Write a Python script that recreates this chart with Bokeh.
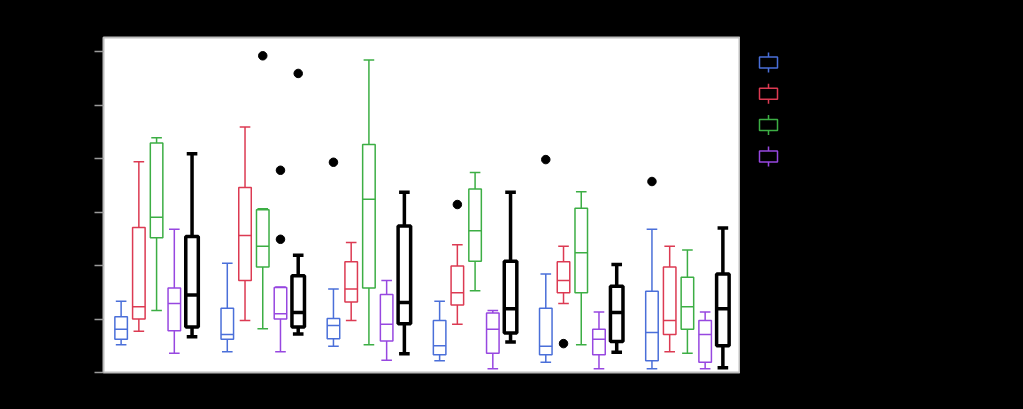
from bokeh.plotting import figure
from bokeh.models import ColumnDataSource, FixedTicker, Range1d, FactorRange
from bokeh.transform import dodge
from bokeh.layouts import row
from bokeh.embed import file_html
from bokeh.resources import INLINE
from bokeh.core.properties import value

# ---------------- data ----------------
groups = ["1", "2", "3", "4", "5", "6"]
series_names = ["Series 1", "Series 2", "Series 3", "Series 4", "All"]
series_colors = ["#4a6fd9", "#dc3a52", "#3cae44", "#9747e0", "#000000"]

# box statistics per series (one value per group)
s1_low  = [0.52, 0.39, 0.49, 0.22, 0.19, 0.07]
s1_q1   = [0.62, 0.62, 0.63, 0.33, 0.33, 0.22]
s1_med  = [0.81, 0.71, 0.88, 0.50, 0.49, 0.75]
s1_q3   = [1.04, 1.20, 1.01, 0.97, 1.20, 1.52]
s1_high = [1.33, 2.04, 1.56, 1.33, 1.84, 2.68]

s2_low  = [0.77, 0.97, 0.97, 0.90, 1.29, 0.39]
s2_q1   = [1.00, 1.72, 1.32, 1.26, 1.49, 0.71]
s2_med  = [1.23, 2.56, 1.56, 1.49, 1.72, 0.97]
s2_q3   = [2.71, 3.46, 2.07, 1.99, 2.07, 1.97]
s2_high = [3.94, 4.59, 2.43, 2.39, 2.36, 2.36]

s3_low  = [1.16, 0.82, 0.52, 1.53, 0.52, 0.36]
s3_q1   = [2.52, 1.97, 1.58, 2.08, 1.49, 0.81]
s3_med  = [2.90, 2.36, 3.24, 2.65, 2.24, 1.23]
s3_q3   = [4.29, 3.04, 4.26, 3.43, 3.07, 1.78]
s3_high = [4.39, 3.06, 5.84, 3.74, 3.38, 2.29]

s4_low  = [0.36, 0.39, 0.23, 0.07, 0.07, 0.07]
s4_q1   = [0.78, 1.00, 0.59, 0.36, 0.33, 0.19]
s4_med  = [1.29, 1.10, 0.90, 0.81, 0.62, 0.71]
s4_q3   = [1.58, 1.59, 1.46, 1.11, 0.81, 0.97]
s4_high = [2.68, 1.60, 1.72, 1.16, 1.13, 1.13]

all_low  = [0.67, 0.72, 0.35, 0.57, 0.38, 0.09]
all_q1   = [0.85, 0.85, 0.91, 0.74, 0.58, 0.50]
all_med  = [1.45, 1.12, 1.31, 1.19, 1.12, 1.19]
all_q3   = [2.54, 1.81, 2.74, 2.08, 1.61, 1.84]
all_high = [4.09, 2.19, 3.37, 3.37, 2.02, 2.70]

# outliers
outlier_group  = ["2", "2", "2", "2", "3", "4", "5", "5", "6"]
outlier_series = [2, 4, 3, 3, 0, 1, 0, 1, 0]
outlier_value  = [5.92, 5.59, 3.78, 2.49, 3.93, 3.14, 3.98, 0.54, 3.57]

y_ticks = [0, 1, 2, 3, 4, 5, 6]

stats = [
    (s1_low, s1_q1, s1_med, s1_q3, s1_high),
    (s2_low, s2_q1, s2_med, s2_q3, s2_high),
    (s3_low, s3_q1, s3_med, s3_q3, s3_high),
    (s4_low, s4_q1, s4_med, s4_q3, s4_high),
    (all_low, all_q1, all_med, all_q3, all_high),
]

# ---------------- styling ----------------
offsets = [-0.334, -0.167, 0.0, 0.167, 0.334]
box_w = 0.118
cap_w = 0.10
line_widths = [1.5, 1.5, 1.5, 1.5, 3.5]
FONT = "Liberation Sans"

TOTAL_W, TOTAL_H = 1007, 393
MAIN_W = 740
BORDER_TOP, BORDER_BOTTOM = 37, 21

p = figure(
    width=MAIN_W, height=TOTAL_H,
    x_range=FactorRange(*groups, range_padding=0),
    y_range=Range1d(0, 6.262),
    output_backend="svg", toolbar_location=None,
    min_border_left=103, min_border_right=0,
    min_border_top=BORDER_TOP, min_border_bottom=BORDER_BOTTOM,
)
p.background_fill_color = "white"
p.border_fill_color = "black"
p.outline_line_color = "#bdbdbd"
p.outline_line_width = 2
p.grid.visible = False

p.yaxis.ticker = FixedTicker(ticks=y_ticks)
p.yaxis.major_tick_out = 9
p.yaxis.major_tick_in = 0
p.yaxis.minor_tick_line_color = None
p.yaxis.major_tick_line_color = "#9a9a9a"
p.yaxis.major_tick_line_width = 1.5
p.yaxis.axis_line_color = None
p.yaxis.major_label_text_color = "black"
p.yaxis.major_label_text_font = FONT
p.yaxis.major_label_text_font_size = "12px"

p.xaxis.major_tick_line_color = None
p.xaxis.major_tick_out = 0
p.xaxis.major_tick_in = 0
p.xaxis.minor_tick_line_color = None
p.xaxis.axis_line_color = None
p.xaxis.major_label_standoff = 3
p.xaxis.major_label_text_color = "black"
p.xaxis.major_label_text_font = FONT
p.xaxis.major_label_text_font_size = "10px"

for i, (lo, q1, med, q3, hi) in enumerate(stats):
    c = series_colors[i]
    lw = line_widths[i]
    off = offsets[i]
    src = ColumnDataSource(dict(group=groups, low=lo, q1=q1, med=med, q3=q3, high=hi))
    xc = dodge("group", off, range=p.x_range)
    xl = dodge("group", off - box_w / 2, range=p.x_range)
    xr = dodge("group", off + box_w / 2, range=p.x_range)
    cl = dodge("group", off - cap_w / 2, range=p.x_range)
    cr = dodge("group", off + cap_w / 2, range=p.x_range)
    # whiskers
    p.segment(x0=xc, y0="low", x1=xc, y1="q1", source=src, line_color=c, line_width=lw)
    p.segment(x0=xc, y0="q3", x1=xc, y1="high", source=src, line_color=c, line_width=lw)
    # caps
    p.segment(x0=cl, y0="low", x1=cr, y1="low", source=src, line_color=c, line_width=lw)
    p.segment(x0=cl, y0="high", x1=cr, y1="high", source=src, line_color=c, line_width=lw)
    # box
    p.vbar(x=xc, width=box_w, bottom="q1", top="q3", source=src,
           fill_color="white", line_color=c, line_width=lw)
    # median
    p.segment(x0=xl, y0="med", x1=xr, y1="med", source=src, line_color=c, line_width=lw)

    # outliers for this series
    og = [g for g, s in zip(outlier_group, outlier_series) if s == i]
    ov = [v for v, s in zip(outlier_value, outlier_series) if s == i]
    if og:
        osrc = ColumnDataSource(dict(group=og, val=ov))
        p.scatter(x=dodge("group", off, range=p.x_range), y="val", source=osrc,
                  size=8.5, fill_color="black", line_color="black")

# ---------------- legend panel (pixel coordinates) ----------------
leg = figure(
    width=TOTAL_W - MAIN_W, height=TOTAL_H,
    x_range=Range1d(MAIN_W, TOTAL_W), y_range=Range1d(TOTAL_H - BORDER_BOTTOM, BORDER_TOP),
    output_backend="svg", toolbar_location=None,
    x_axis_location=None, y_axis_location=None,
    min_border_left=0, min_border_right=0,
    min_border_top=BORDER_TOP, min_border_bottom=BORDER_BOTTOM,
)
leg.background_fill_color = "black"
leg.border_fill_color = "black"
leg.outline_line_color = None
leg.grid.visible = False

leg_names = series_names[:4]
leg_colors = series_colors[:4]
leg_x = [768] * 4
leg_y = [62.0, 93.3, 124.6, 155.9]
lsrc = ColumnDataSource(dict(x=leg_x, y=leg_y,
                             y0=[v - 10 for v in leg_y], y1=[v + 10 for v in leg_y],
                             tx=[786] * 4, color=leg_colors, name=leg_names))
leg.segment(x0="x", y0="y0", x1="x", y1="y1", source=lsrc, line_color="color", line_width=1.5)
leg.rect(x="x", y="y", width=18, height=11, width_units="screen", height_units="screen",
         source=lsrc, fill_color="black", line_color="color", line_width=1.5)
leg.text(x="tx", y="y", text="name", source=lsrc, text_color="black",
         text_font=value(FONT), text_font_size="12px", text_baseline="middle")

layout = row(p, leg)
html = file_html(layout, INLINE)
html = html.replace("</head>", "<style>html, body { background: #000; }</style>\n</head>", 1)
open("out.html", "w").write(html)
